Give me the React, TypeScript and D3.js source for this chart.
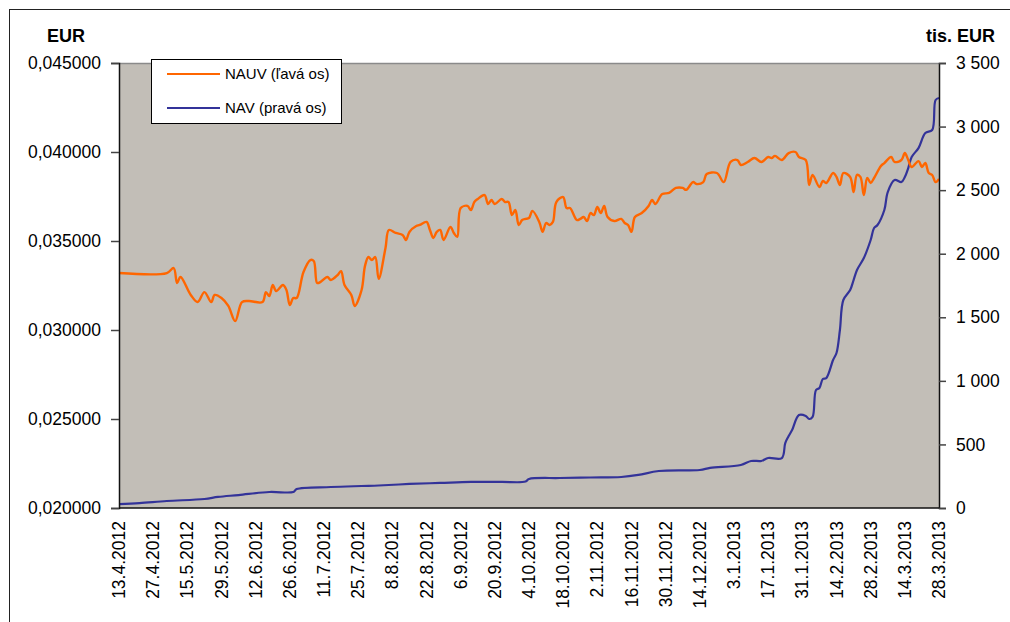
import React, { useEffect, useRef } from "react";
import * as d3 from "d3";

// trading-day index (0..240) and value
const nauv: [number, number][] = [
    [0, 0.0332], [14, 0.0332], [16, 0.03348], [17, 0.03264], [18, 0.03298], [21, 0.03197],
    [23, 0.03157], [25, 0.03213], [27, 0.03157], [28, 0.03197], [30, 0.0318], [32, 0.03135],
    [34, 0.0305], [36, 0.03157], [38, 0.03163], [42, 0.03157], [43, 0.03213], [44, 0.03191],
    [45, 0.03253], [46, 0.03219], [48, 0.03253], [49, 0.03225], [50, 0.0314], [51, 0.0318],
    [52, 0.0318], [54, 0.03326], [56, 0.03393], [57, 0.03388], [58, 0.03264], [59, 0.0327],
    [61, 0.03298], [62, 0.03281], [64, 0.03309], [65, 0.03331], [66, 0.03253], [68, 0.03197],
    [69, 0.03135], [71, 0.03225], [72, 0.0336], [73, 0.0341], [74, 0.03393], [75, 0.0341],
    [76, 0.03287], [78, 0.03461], [79, 0.03562], [81, 0.03545], [83, 0.03534], [84, 0.03506],
    [85, 0.03551], [87, 0.03584], [88, 0.0359], [90, 0.03607], [91, 0.03562], [92, 0.03517],
    [93, 0.03551], [94, 0.03562], [95, 0.03506], [97, 0.03579], [98, 0.03545], [99, 0.03523],
    [100, 0.03685], [102, 0.03697], [103, 0.03674], [104, 0.03719], [105, 0.03736], [107, 0.03758],
    [108, 0.03708], [109, 0.0373], [110, 0.03708], [112, 0.03736], [113, 0.03719], [114, 0.03719],
    [115, 0.03646], [116, 0.03674], [117, 0.0359], [118, 0.03618], [119, 0.03624], [120, 0.03629],
    [121, 0.03669], [123, 0.03607], [124, 0.03551], [125, 0.03601], [126, 0.0359], [127, 0.03607],
    [128, 0.03719], [130, 0.03747], [131, 0.03685], [132, 0.03685], [134, 0.03618], [135, 0.03624],
    [136, 0.03635], [137, 0.03612], [138, 0.03657], [139, 0.03646], [140, 0.03691], [141, 0.03657],
    [142, 0.03697], [143, 0.03635], [145, 0.03612], [147, 0.03624], [148, 0.03601], [149, 0.0359],
    [150, 0.03551], [151, 0.03635], [153, 0.03657], [155, 0.03697], [156, 0.0373], [157, 0.03708],
    [159, 0.03764], [161, 0.0377], [163, 0.03798], [165, 0.03798], [166, 0.03787], [168, 0.03831],
    [169, 0.0382], [171, 0.03831], [172, 0.03876], [175, 0.03882], [177, 0.03831], [179, 0.03944],
    [181, 0.03955], [182, 0.03927], [184, 0.03944], [186, 0.03966], [188, 0.03944], [190, 0.03972],
    [191, 0.03966], [192, 0.03978], [194, 0.03955], [196, 0.03994], [198, 0.04], [199, 0.03972],
    [201, 0.03955], [202, 0.03815], [203, 0.03871], [205, 0.03803], [206, 0.03837], [207, 0.03826],
    [209, 0.03882], [210, 0.0386], [211, 0.03815], [212, 0.03882], [214, 0.0386], [215, 0.03775],
    [216, 0.03871], [217, 0.0386], [218, 0.03758], [219, 0.03854], [220, 0.03826], [221, 0.03854],
    [223, 0.03921], [224, 0.03938], [226, 0.03972], [227, 0.03944], [229, 0.03955], [230, 0.03994],
    [231, 0.03955], [232, 0.03916], [234, 0.03949], [235, 0.03916], [236, 0.03938], [237, 0.03882],
    [238, 0.03871], [239, 0.03831], [240, 0.03848],
];

const nav: [number, number][] = [
    [0, 31], [6, 39], [14, 55], [25, 71], [29, 87], [35, 102], [44, 126], [51, 126], [52, 149],
    [62, 165], [71, 173], [76, 177], [85, 189], [94, 197], [103, 205], [112, 205], [119, 208],
    [120, 228], [129, 236], [138, 240], [147, 244], [152, 260], [158, 291], [170, 299], [173, 315],
    [182, 338], [185, 370], [188, 370], [190, 393], [194, 393], [195, 511], [196, 566], [197, 613],
    [199, 731], [201, 724], [202, 700], [203, 716], [204, 928], [205, 944], [206, 1015], [207, 1022],
    [209, 1164], [210, 1219], [211, 1400], [212, 1636], [214, 1715], [215, 1793], [216, 1872],
    [218, 1966], [220, 2108], [221, 2202], [222, 2226], [224, 2344], [225, 2485], [227, 2580],
    [229, 2564], [230, 2603], [231, 2674], [232, 2761], [234, 2831], [236, 2949], [238, 2973],
    [239, 3209], [240, 3225],
];

// one label every 10 trading days
const dateLabels = [
    "13.4.2012", "27.4.2012", "15.5.2012", "29.5.2012", "12.6.2012", "26.6.2012", "11.7.2012",
    "25.7.2012", "8.8.2012", "22.8.2012", "6.9.2012", "20.9.2012", "4.10.2012", "18.10.2012",
    "2.11.2012", "16.11.2012", "30.11.2012", "14.12.2012", "3.1.2013", "17.1.2013", "31.1.2013",
    "14.2.2013", "28.2.2013", "14.3.2013", "28.3.2013",
];

const leftTicks = [0.02, 0.025, 0.03, 0.035, 0.04, 0.045];
const rightTicks = [0, 500, 1000, 1500, 2000, 2500, 3000, 3500];

const locale = d3.formatLocale({ decimal: ",", thousands: " ", grouping: [3], currency: ["", ""] });

const W = 1010;
const H = 622;
const font = "'Liberation Sans', Arial, sans-serif";

const Chart = () => {
    const ref = useRef<SVGSVGElement>(null);

    useEffect(() => {
        const svg = d3.select(ref.current);
        svg.selectAll("*").remove();

        const left = 119, right = 939, top = 63, bottom = 508;

        const x = d3.scaleLinear().domain([0, 240]).range([left, right]);
        const yL = d3.scaleLinear().domain([0.02, 0.045]).range([bottom, top]);
        const yR = d3.scaleLinear().domain([0, 3500]).range([bottom, top]);

        // outer frame
        svg.append("rect")
            .attr("x", 9.5).attr("y", 9.5)
            .attr("width", W).attr("height", H)
            .attr("fill", "white").attr("stroke", "#222").attr("stroke-width", 1);

        // plot area
        svg.append("rect")
            .attr("x", left).attr("y", top)
            .attr("width", right - left).attr("height", bottom - top)
            .attr("fill", "#c2beb7");
        svg.append("line")
            .attr("x1", left).attr("x2", right).attr("y1", top + 0.5).attr("y2", top + 0.5)
            .attr("stroke", "#8a8a8a").attr("stroke-width", 1.5);

        // lines
        const lineL = d3.line<[number, number]>()
            .x((d) => x(d[0])).y((d) => yL(d[1]))
            .curve(d3.curveCatmullRom.alpha(0.5));
        const lineR = d3.line<[number, number]>()
            .x((d) => x(d[0])).y((d) => yR(d[1]))
            .curve(d3.curveCatmullRom.alpha(0.5));

        svg.append("path").datum(nav)
            .attr("d", lineR).attr("fill", "none")
            .attr("stroke", "#333399").attr("stroke-width", 2.2);
        svg.append("path").datum(nauv)
            .attr("d", lineL).attr("fill", "none")
            .attr("stroke", "#ff6600").attr("stroke-width", 2.4);

        // left axis
        const la = svg.append("g").attr("transform", `translate(${left},0)`)
            .call(d3.axisLeft(yL).tickValues(leftTicks).tickSize(8).tickPadding(10)
                .tickFormat((d) => locale.format(".6f")(d as number)));
        la.select(".domain").attr("stroke", "#111").attr("stroke-width", 1.5);
        la.selectAll(".tick line").attr("stroke", "#444").attr("stroke-width", 1.5);
        la.selectAll("text").attr("font-family", font).attr("font-size", 17.5).attr("fill", "#000");

        // right axis
        const ra = svg.append("g").attr("transform", `translate(${right},0)`)
            .call(d3.axisRight(yR).tickValues(rightTicks).tickSize(7).tickPadding(10)
                .tickFormat((d) => locale.format(",.0f")(d as number)));
        ra.select(".domain").attr("stroke", "#111").attr("stroke-width", 1.5);
        ra.selectAll(".tick line").attr("stroke", "#444").attr("stroke-width", 1.5);
        ra.selectAll("text").attr("font-family", font).attr("font-size", 17.5).attr("fill", "#000");

        // bottom axis
        svg.append("line")
            .attr("x1", left).attr("x2", right).attr("y1", bottom).attr("y2", bottom)
            .attr("stroke", "#111").attr("stroke-width", 1.5);
        svg.append("g").selectAll("text")
            .data(dateLabels)
            .enter()
            .append("text")
            .attr("transform", (d, i) => `translate(${x(i * 10)},${bottom + 13}) rotate(-90)`)
            .attr("text-anchor", "end")
            .attr("dy", "0.35em")
            .attr("font-family", font)
            .attr("font-size", 17.5)
            .text((d) => d);

        // axis titles
        svg.append("text").attr("x", 47).attr("y", 42)
            .attr("font-family", font).attr("font-size", 18).attr("font-weight", "bold")
            .text("EUR");
        svg.append("text").attr("x", 995).attr("y", 42).attr("text-anchor", "end")
            .attr("font-family", font).attr("font-size", 18).attr("font-weight", "bold")
            .text("tis. EUR");

        // legend
        const lg = svg.append("g");
        lg.append("rect")
            .attr("x", 151.5).attr("y", 59.5).attr("width", 190).attr("height", 64)
            .attr("fill", "white").attr("stroke", "#000").attr("stroke-width", 1);
        const items = [
            { label: "NAUV (ľavá os)", color: "#ff6600", y: 74 },
            { label: "NAV (pravá os)", color: "#333399", y: 108 },
        ];
        items.forEach((it) => {
            lg.append("line")
                .attr("x1", 167).attr("x2", 220).attr("y1", it.y).attr("y2", it.y)
                .attr("stroke", it.color).attr("stroke-width", 2.2);
            lg.append("text")
                .attr("x", 225).attr("y", it.y).attr("dy", "0.35em")
                .attr("font-family", font).attr("font-size", 15)
                .text(it.label);
        });
    });

    return (
        <svg
            ref={ref}
            width={W}
            height={H}
            style={{ position: "absolute", left: 0, top: 0, background: "white" }}
        ></svg>
    );
};

export default function App() {
    return (
        <div>
            <Chart />
        </div>
    );
}
